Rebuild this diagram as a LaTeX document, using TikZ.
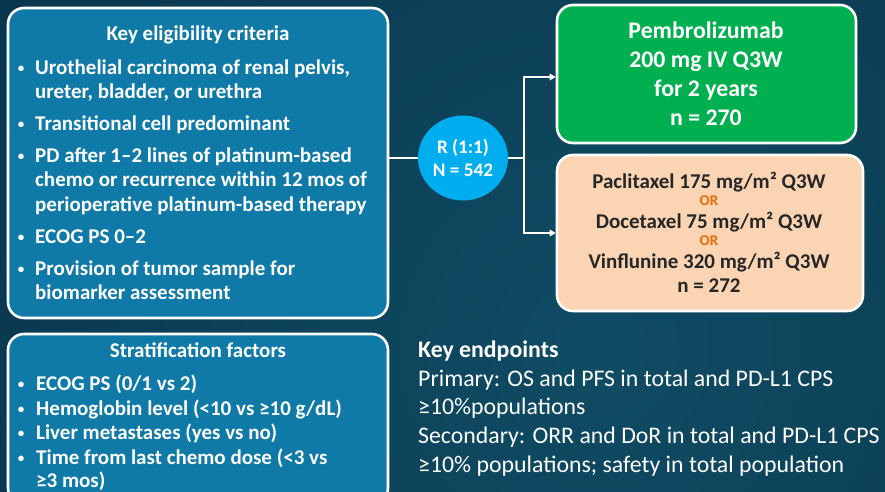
\documentclass[tikz,border=0pt]{standalone}
\usepackage{fontspec}
\setmainfont{Carlito}
\usetikzlibrary{arrows.meta,shapes.geometric}

\definecolor{bgdark}{HTML}{072C42}
\definecolor{bgmid}{HTML}{0F4C64}
\definecolor{panelblue}{HTML}{0F79A7}
\definecolor{armgreen}{HTML}{00B050}
\definecolor{armpeach}{HTML}{FBD4B4}
\definecolor{randcyan}{HTML}{00AEEF}
\definecolor{ortext}{HTML}{E46C0A}
\definecolor{darktext}{HTML}{262626}

\tikzset{
  panel/.style={draw=white, line width=2.6pt, rounded corners=16pt, inner sep=0pt},
  wtxt/.style={text=white, inner sep=0pt, font=\bfseries\fontsize{21}{25}\selectfont},
  bul/.style={text=white, inner sep=0pt, font=\bfseries\fontsize{13}{15}\selectfont},
  gtxt/.style={text=white, inner sep=0pt, font=\bfseries\fontsize{23.8}{28}\selectfont},
  ptxt/.style={text=darktext, inner sep=0pt, font=\bfseries\fontsize{21}{25}\selectfont},
  ortxt/.style={text=ortext, inner sep=0pt, font=\bfseries\fontsize{15}{17}\selectfont},
  rtxt/.style={text=white, inner sep=0pt, font=\bfseries\fontsize{19.2}{22}\selectfont},
  etxt/.style={text=white, inner sep=0pt, font=\fontsize{23.8}{28}\selectfont},
  conn/.style={draw=white, line width=2pt},
  arr/.style={conn, -{Triangle[length=6pt,width=6.5pt]}},
}

\begin{document}
\begin{tikzpicture}[x=1pt,y=-1pt]
\useasboundingbox (0,0) rectangle (885,491);

% background
\begin{scope}
  \clip (0,0) rectangle (885,491);
  \shade[inner color=bgmid, outer color=bgdark] (-400,-650) rectangle (1600,1350);
\end{scope}

% eligibility panel
\node[panel, fill=panelblue, minimum width=380pt, minimum height=310pt] (elig) at (198,163) {};
\node[wtxt, anchor=base] (eligtitle) at (198,40) {Key eligibility criteria};
\node[bul, anchor=base] (eb1) at (21,72) {•};
\node[wtxt, anchor=base west] (et1a) at (35,74) {Urothelial carcinoma of renal pelvis,};
\node[wtxt, anchor=base west] (et1b) at (35,98) {ureter, bladder, or urethra};
\node[bul, anchor=base] (eb2) at (21,128) {•};
\node[wtxt, anchor=base west] (et2) at (35,130) {Transitional cell predominant};
\node[bul, anchor=base] (eb3) at (21,160) {•};
\node[wtxt, anchor=base west] (et3a) at (35,162) {PD after 1–2 lines of platinum-based};
\node[wtxt, anchor=base west] (et3b) at (35,186) {chemo or recurrence within 12 mos of};
\node[wtxt, anchor=base west] (et3c) at (35,211) {perioperative platinum-based therapy};
\node[bul, anchor=base] (eb4) at (21,241) {•};
\node[wtxt, anchor=base west] (et4) at (35,243) {ECOG PS 0–2};
\node[bul, anchor=base] (eb5) at (21,273) {•};
\node[wtxt, anchor=base west] (et5a) at (35,275) {Provision of tumor sample for};
\node[wtxt, anchor=base west] (et5b) at (35,299) {biomarker assessment};

% stratification panel
\node[panel, fill=panelblue, minimum width=380pt, minimum height=170pt] (strat) at (198,419) {};
\node[wtxt, anchor=base] (strattitle) at (198,357) {Stratification factors};
\node[bul, anchor=base] (sb1) at (21,388) {•};
\node[wtxt, anchor=base west] (st1) at (36,390) {ECOG PS (0/1 vs 2)};
\node[bul, anchor=base] (sb2) at (21,413) {•};
\node[wtxt, anchor=base west] (st2) at (36,415) {Hemoglobin level (<10 vs ≥10 g/dL)};
\node[bul, anchor=base] (sb3) at (21,437) {•};
\node[wtxt, anchor=base west] (st3) at (36,439) {Liver metastases (yes vs no)};
\node[bul, anchor=base] (sb4) at (21,462) {•};
\node[wtxt, anchor=base west] (st4a) at (36,464) {Time from last chemo dose (<3 vs};
\node[wtxt, anchor=base west] (st4b) at (36,487) {≥3 mos)};

% randomisation
\node[ellipse, fill=randcyan, minimum width=90pt, minimum height=85pt, inner sep=0pt] (rand) at (463,158) {};
\node[rtxt, anchor=base] (randa) at (463,153) {R (1:1)};
\node[rtxt, anchor=base] (randb) at (463,176) {N = 542};

% treatment arms
\node[panel, fill=armgreen, minimum width=299pt, minimum height=138pt] (pembro) at (706.5,74) {};
\node[gtxt, anchor=base] (p1) at (706,38) {Pembrolizumab};
\node[gtxt, anchor=base] (p2) at (706,67) {200 mg IV Q3W};
\node[gtxt, anchor=base] (p3) at (706,96) {for 2 years};
\node[gtxt, anchor=base] (p4) at (706,125) {n = 270};

\node[panel, fill=armpeach, minimum width=306pt, minimum height=156pt] (chemo) at (710,233) {};
\node[ptxt, anchor=base] (c1) at (709,188) {Paclitaxel 175 mg/m² Q3W};
\node[ortxt, anchor=base] (or1) at (709,205) {OR};
\node[ptxt, anchor=base] (c2) at (709,228) {Docetaxel 75 mg/m² Q3W};
\node[ortxt, anchor=base] (or2) at (709,245) {OR};
\node[ptxt, anchor=base] (c3) at (709,268) {Vinflunine 320 mg/m² Q3W};
\node[ptxt, anchor=base] (c4) at (709,292) {n = 272};

% connectors
\coordinate (split) at (524,158);
\coordinate (toparm) at (524,77);
\draw[conn] (elig.east |- rand.west) -- (rand.west);
\draw[conn] (rand.east) -- (split);
\draw[arr] (split) -- (toparm) -- (pembro.west |- toparm);
\draw[arr] (split) |- (chemo.west);

% endpoints
\node[etxt, font=\bfseries\fontsize{23.8}{28}\selectfont, anchor=base west] (k0) at (418,357) {Key endpoints};
\node[etxt, anchor=base west] (k1) at (418,386) {Primary: OS and PFS in total and PD-L1 CPS};
\node[etxt, anchor=base west] (k2) at (418,414) {≥10\%populations};
\node[etxt, anchor=base west] (k3) at (418,443) {Secondary: ORR and DoR in total and PD-L1 CPS};
\node[etxt, anchor=base west] (k4) at (418,472) {≥10\% populations; safety in total population};
\end{tikzpicture}
\end{document}
